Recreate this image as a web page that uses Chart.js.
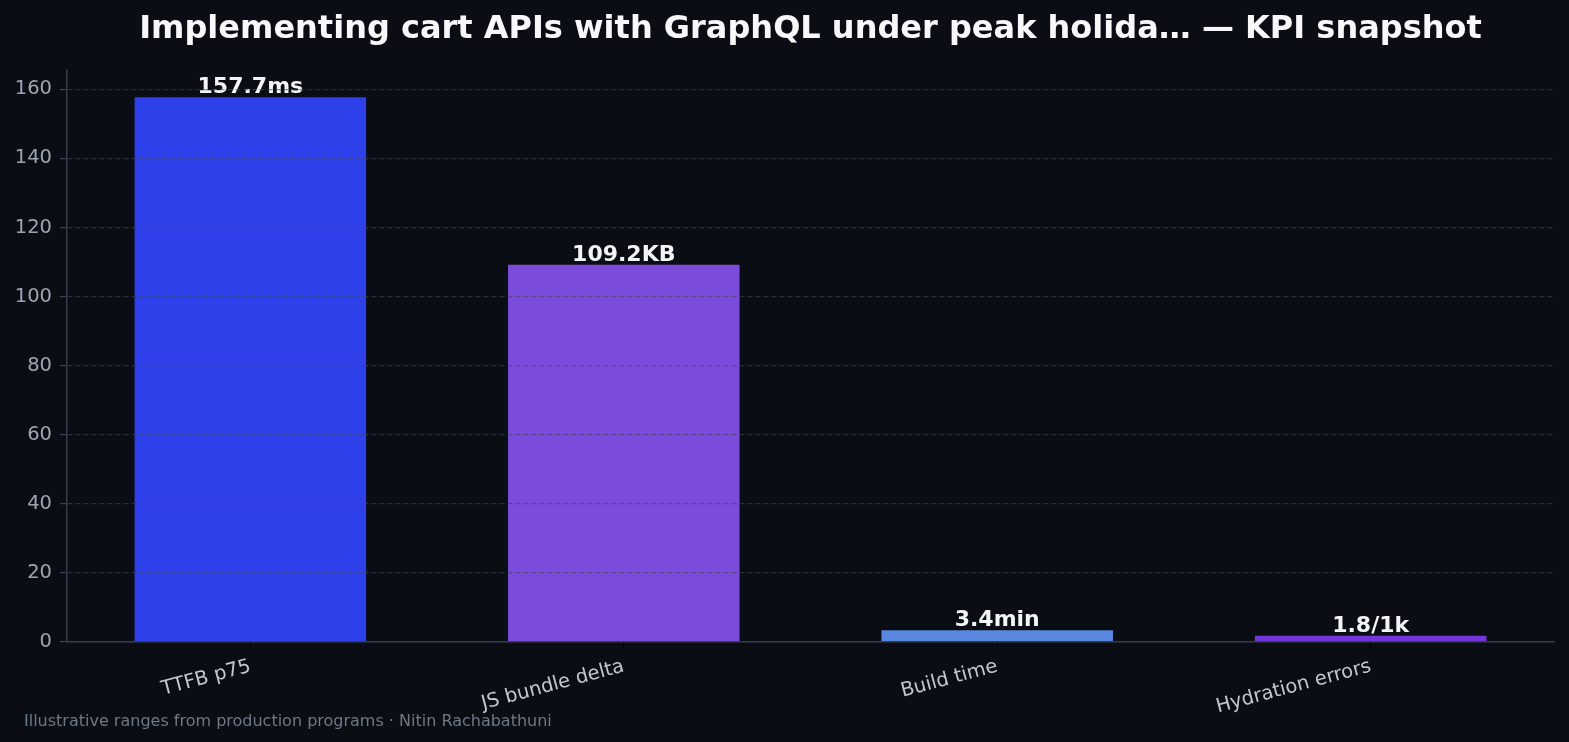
<!DOCTYPE html>
<html>
<head>
<meta charset="utf-8">
<script src="https://cdn.jsdelivr.net/npm/chart.js@4.4.1/dist/chart.umd.min.js"></script>
<style>
  html, body { margin: 0; padding: 0; background: #0a0d14; }
  canvas { display: block; }
</style>
</head>
<body>
<canvas id="kpiChart" width="1569" height="742"></canvas>
<script>
// KPI values
const categories = ['TTFB p75', 'JS bundle delta', 'Build time', 'Hydration errors'];
const values = [157.7, 109.2, 3.4, 1.8];
const valueLabels = ['157.7ms', '109.2KB', '3.4min', '1.8/1k'];
const barColors = ['#2e40ea', '#7b4bdb', '#5a88e0', '#7436dc'];
const yTicks = [0, 20, 40, 60, 80, 100, 120, 140, 160];

const titleText = 'Implementing cart APIs with GraphQL under peak holida\u2026 \u2014 KPI snapshot';
const footerText = 'Illustrative ranges from production programs \u00b7 Nitin Rachabathuni';

const FONT = "'DejaVu Sans', sans-serif";

// paint the dark background
const bgPlugin = {
    id: 'bg',
    beforeDraw(chart) {
        const ctx = chart.ctx;
        ctx.save();
        ctx.fillStyle = '#0a0d14';
        ctx.fillRect(0, 0, chart.width, chart.height);
        ctx.restore();
    }
};

// value text on top of each bar
const valueLabelPlugin = {
    id: 'valueLabels',
    afterDatasetsDraw(chart) {
        const ctx = chart.ctx;
        const meta = chart.getDatasetMeta(0);
        ctx.save();
        ctx.font = 'bold 22px ' + FONT;
        ctx.fillStyle = '#f3f4f6';
        ctx.textAlign = 'center';
        ctx.textBaseline = 'alphabetic';
        meta.data.forEach((bar, i) => {
            ctx.fillText(valueLabels[i], bar.x, bar.y - 4);
        });
        ctx.restore();
    }
};

// small source note bottom left
const footerPlugin = {
    id: 'footer',
    afterDraw(chart) {
        const ctx = chart.ctx;
        ctx.save();
        ctx.font = '16px ' + FONT;
        ctx.fillStyle = '#6e7889';
        ctx.textAlign = 'left';
        ctx.textBaseline = 'alphabetic';
        ctx.fillText(footerText, 24, 726);
        ctx.restore();
    }
};

const ctx = document.getElementById('kpiChart').getContext('2d');

const data = {
    datasets: [{
        data: values.map((v, i) => ({ x: i, y: v })),
        backgroundColor: barColors,
        borderWidth: 0,
        barPercentage: 0.62,
        categoryPercentage: 1
    }]
};

const options = {
    responsive: false,
    animation: false,
    devicePixelRatio: 1,
    layout: { padding: { left: 0, right: 15, top: 0, bottom: 0 } },
    plugins: {
        legend: { display: false },
        tooltip: { enabled: false },
        title: {
            display: true,
            text: titleText,
            fullSize: false,
            color: '#f7f8fa',
            font: { family: FONT, size: 32, weight: 'bold', lineHeight: 1.2 },
            padding: { top: 10, bottom: 21.6 }
        }
    },
    scales: {
        x: {
            type: 'linear',
            min: -0.491,
            max: 3.491,
            offset: false,
            grid: {
                offset: false,
                drawOnChartArea: false,
                drawTicks: true,
                tickLength: 6,
                tickColor: '#000000'
            },
            border: { display: true, color: '#353d4b', width: 1.5, z: 2 },
            ticks: {
                stepSize: 1,
                includeBounds: false,
                autoSkip: false,
                minRotation: 15,
                maxRotation: 15,
                padding: 7,
                color: '#c3c8d0',
                font: { family: FONT, size: 19.5 },
                callback: (v) => categories[v]
            },
            afterFit: (scale) => { scale.height = 100; }
        },
        y: {
            min: 0,
            max: 165.6,
            grid: {
                z: 1,
                color: 'rgba(62, 70, 90, 0.6)',
                lineWidth: 1.2,
                drawTicks: true,
                tickLength: 7,
                tickColor: '#3a4250'
            },
            border: { display: true, color: '#353d4b', width: 1.5, dash: [5, 3], z: 2 },
            ticks: {
                stepSize: 20,
                includeBounds: false,
                padding: 8,
                color: '#9da5b4',
                font: { family: FONT, size: 19.5 },
                callback: (v) => yTicks.includes(v) ? String(v) : ''
            },
            afterFit: (scale) => { scale.width = 67; }
        }
    }
};

const chart = new Chart(ctx, {
    type: 'bar',
    data: data,
    options: options,
    plugins: [bgPlugin, valueLabelPlugin, footerPlugin]
});
</script>
</body>
</html>
